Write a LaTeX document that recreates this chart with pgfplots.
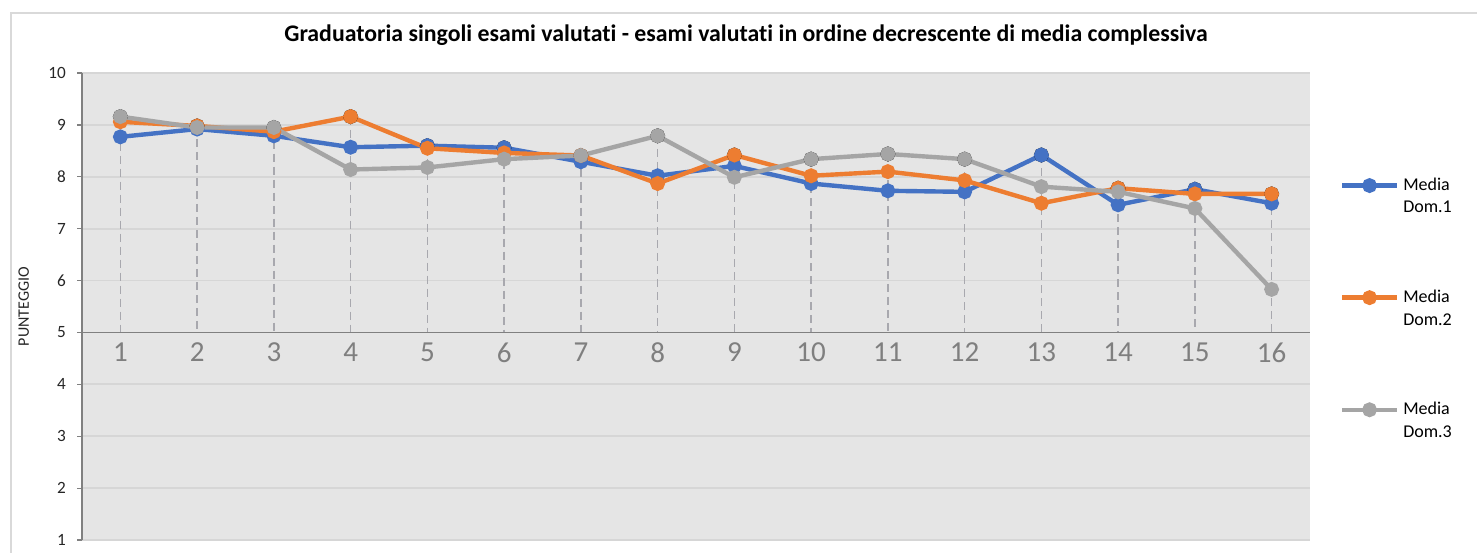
\documentclass[border=0pt]{standalone}
\usepackage{pgfplots}
\pgfplotsset{compat=1.18}
\usepackage{pgfplotstable}
\usepackage{fontspec}
\setmainfont{Carlito}[Ligatures=NoCommon]

\definecolor{dom1}{HTML}{4472C4}
\definecolor{dom2}{HTML}{ED7D31}
\definecolor{dom3}{HTML}{A5A5A5}
\definecolor{bgc}{HTML}{E5E5E5}
\definecolor{gridc}{HTML}{D6D6D6}
\definecolor{axisc}{HTML}{808080}
\definecolor{tickc}{HTML}{7F7F7F}
\definecolor{dropc}{HTML}{A8A8AE}
\definecolor{borderc}{HTML}{D9D9D9}

% media per esame (16 esami)
\pgfplotstableread{
x  d1   d2   d3   top
1  8.77 9.06 9.16 9.16
2  8.92 8.98 8.95 8.98
3  8.79 8.87 8.95 8.95
4  8.57 9.16 8.14 9.16
5  8.60 8.55 8.18 8.60
6  8.56 8.46 8.34 8.56
7  8.29 8.41 8.41 8.41
8  8.02 7.87 8.79 8.79
9  8.21 8.42 7.99 8.42
10 7.87 8.02 8.34 8.34
11 7.73 8.10 8.44 8.44
12 7.71 7.93 8.34 8.34
13 8.42 7.49 7.81 8.42
14 7.46 7.78 7.71 7.78
15 7.76 7.67 7.39 7.76
16 7.49 7.67 5.83 7.67
}\medie

\begin{document}
\begin{tikzpicture}
\begin{axis}[
  scale only axis,
  width=614pt, height=233.5pt,
  xmin=0.5, xmax=16.5,
  ymin=1, ymax=10,
  ytick={1,...,10},
  xtick={1,...,16},
  axis x line*=bottom,
  axis y line*=left,
  x axis line style={draw=none},
  y axis line style={draw=axisc, line width=0.6pt, -},
  tick align=outside,
  major tick length=2.5pt,
  major x tick style={draw=none},
  major y tick style={draw=axisc, line width=0.6pt},
  ymajorgrids,
  grid style={draw=gridc, line width=0.9pt},
  axis background/.style={fill=bgc},
  /pgf/number format/assume math mode=true,
  yticklabel style={font=\fontsize{8.6}{10}\selectfont, text=black!85, xshift=-2pt},
  xticklabel style={font=\fontsize{14.5}{16}\selectfont, text=tickc, inner sep=0pt,
    anchor=north, yshift=101.3pt},
  ylabel={PUNTEGGIO},
  ylabel style={font=\fontsize{8}{9}\selectfont, text=black!85, at={(-23pt,0.5)}},
  title={Graduatoria singoli esami valutati - esami valutati in ordine decrescente di media complessiva},
  title style={font=\bfseries\fontsize{11.9}{14}\selectfont, at={(0.5407,1.0557)},
    anchor=center, yshift=0pt},
  legend style={at={(1.0191,0.7936)}, anchor=north west, draw=none, fill=none,
    font=\fontsize{9}{11.3}\selectfont, row sep=33pt, nodes={align=left}},
  legend cell align=left,
  legend image code/.code={
    \draw[mark repeat=2, mark phase=2, yshift=5.65pt] plot coordinates {(0pt,0pt) (13.75pt,0pt) (27.5pt,0pt)};
  },
  every axis plot/.append style={line width=2.2pt, mark=*, mark size=2.6pt},
]
% linee di riferimento tratteggiate
\addplot[forget plot, only marks, mark=none,
  error bars/.cd, y dir=minus, y explicit, error mark=none,
  error bar style={draw=dropc, line width=0.65pt, dash pattern=on 4pt off 2.5pt}]
  table[x=x, y=top, y error expr=\thisrow{top}-5] {\medie};
% asse x a quota 5
\addplot[forget plot, draw=axisc, line width=0.9pt, mark=none] coordinates {(0.5,5) (16.5,5)};

\addplot[color=dom1] table[x=x, y=d1] {\medie};
\addlegendentry{Media\\Dom.1}
\addplot[color=dom2] table[x=x, y=d2] {\medie};
\addlegendentry{Media\\Dom.2}
\addplot[color=dom3] table[x=x, y=d3] {\medie};
\addlegendentry{Media\\Dom.3}
\end{axis}
\draw[draw=borderc, line width=0.8pt] (-35.5pt,-30pt) rectangle (720pt,263.5pt);
\pgfresetboundingbox
\useasboundingbox (-41pt,-6pt) rectangle (697.5pt,270pt);
\end{tikzpicture}
\end{document}
